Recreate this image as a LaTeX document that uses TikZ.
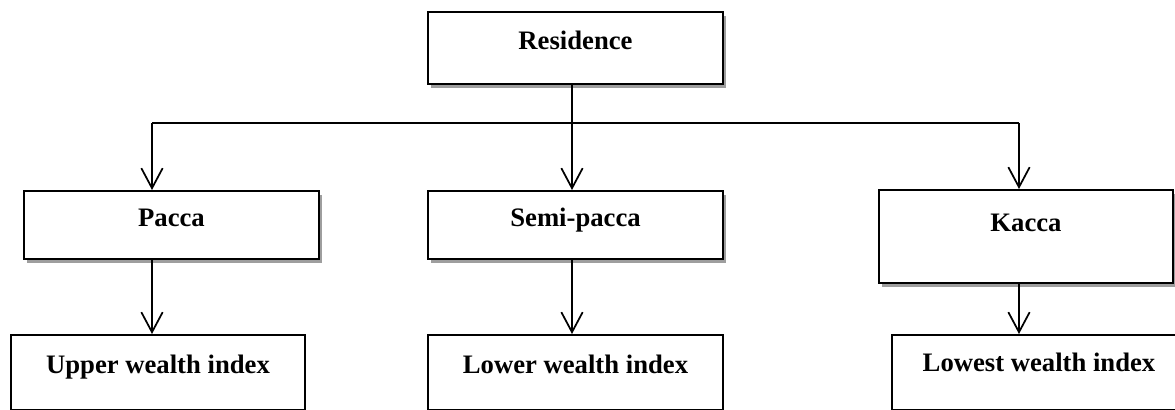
\documentclass[tikz,border=0pt]{standalone}
\usepackage{fontspec}
\setmainfont{Liberation Serif}
\usetikzlibrary{arrows.meta,shadows}
\begin{document}
\begin{tikzpicture}[x=0.75pt,y=-0.75pt,
  box/.style={draw=black, line width=1.5pt, fill=white, inner sep=0pt, anchor=north west,
    align=center, font=\fontsize{20}{24}\selectfont\bfseries},
  shbox/.style={box, drop shadow={shadow xshift=2.5pt, shadow yshift=-3pt, fill=black!38, opacity=1}},
  conn/.style={line width=1.3pt},
  arr/.style={conn, -{Straight Barb[length=15pt,width=16pt,line width=1.3pt]}}]
\clip (0,0) rectangle (1175,410);
\node[shbox, minimum width=221.25pt, text height=28.5pt, text depth=25.5pt] (res) at (427,11) {Residence};
\node[shbox, minimum width=221.25pt, text height=26.25pt, text depth=24.75pt] (pacca) at (23,190) {Pacca};
\node[shbox, minimum width=221.25pt, text height=26.25pt, text depth=24.75pt] (semi) at (427,190) {Semi-pacca};
\node[shbox, minimum width=220.5pt, text height=30.75pt, text depth=39pt] (kacca) at (878,189) {Kacca};
\node[box, minimum width=220.5pt, text height=28.5pt, text depth=27.75pt] (upper) at (10,334) {Upper wealth index};
\node[box, minimum width=221.25pt, text height=28.5pt, text depth=27.75pt] (lower) at (427,334) {Lower wealth index};
\node[box, minimum width=220.5pt, text height=27pt, text depth=29.25pt] (lowest) at (891,334) {Lowest wealth index};
\coordinate (jl) at (152,123);
\coordinate (jm) at (572,123);
\coordinate (jr) at (1019,123);
\draw[conn] (jl) -- (jr);
\draw[arr] (res.south -| jm) -- (semi.north -| jm);
\draw[arr] (jl) -- (pacca.north -| jl);
\draw[arr] (jr) -- (kacca.north -| jr);
\draw[arr] (pacca.south -| jl) -- (upper.north -| jl);
\draw[arr] (semi.south -| jm) -- (lower.north -| jm);
\draw[arr] (kacca.south -| jr) -- (lowest.north -| jr);
\end{tikzpicture}
\end{document}
